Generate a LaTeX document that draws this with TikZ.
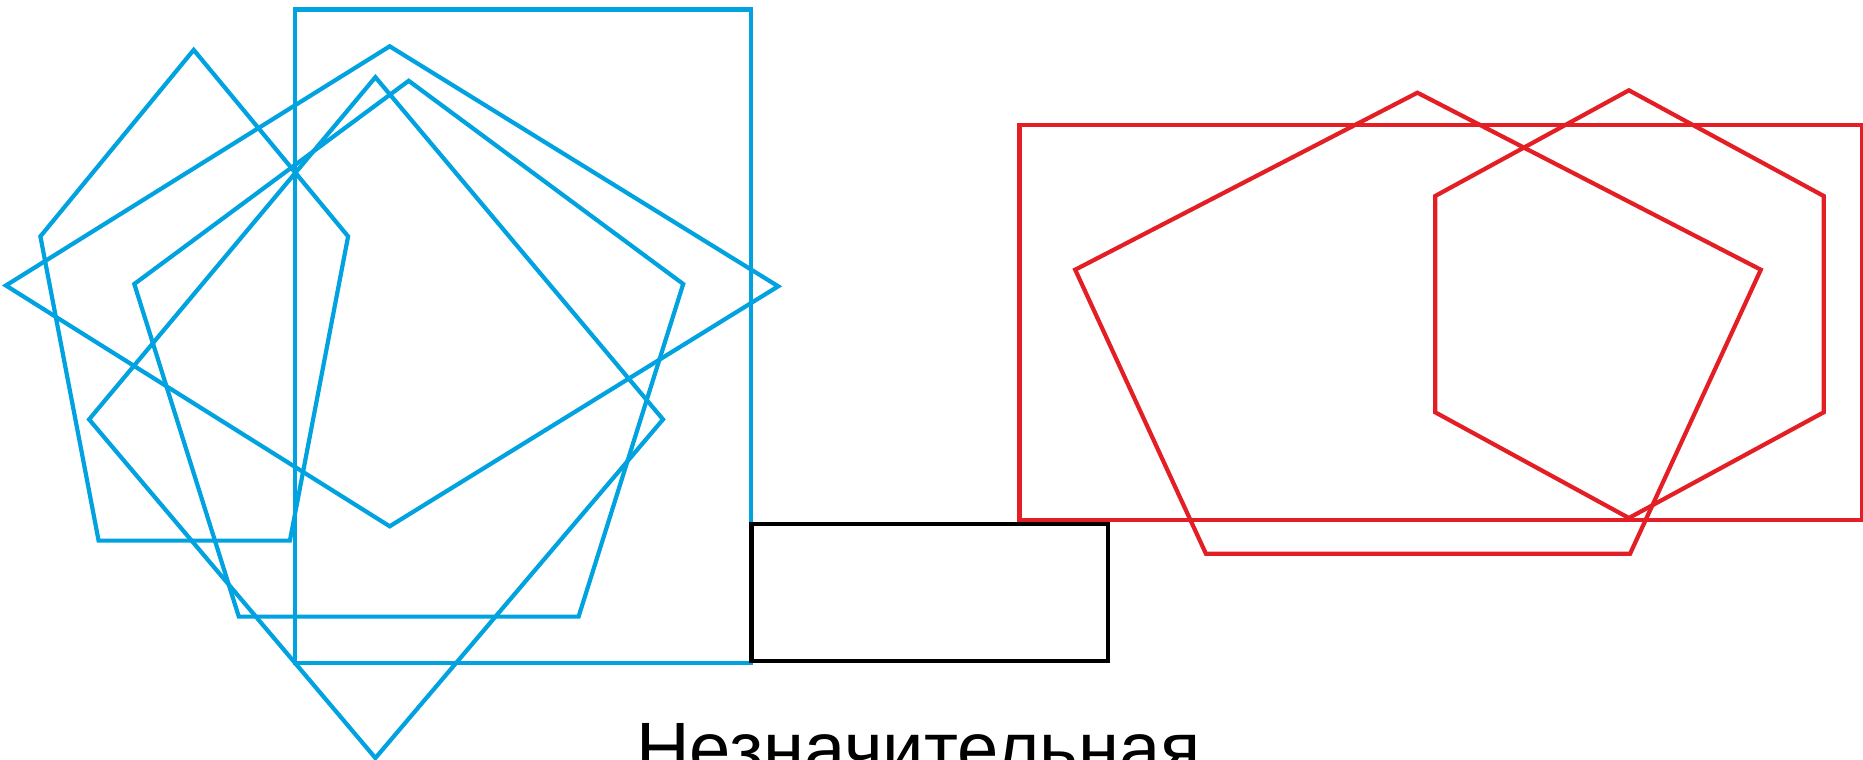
\documentclass[tikz,border=0pt]{standalone}
\usepackage{fontspec}
\setmainfont{Liberation Sans}
\definecolor{cblue}{RGB}{0,162,224}
\definecolor{cred}{RGB}{227,30,36}
\begin{document}
\begin{tikzpicture}[x=1pt,y=-1pt,
  blueline/.style={draw=cblue,line width=4.2pt,line join=miter},
  redline/.style={draw=cred,line width=4.2pt,line join=miter},
  blackline/.style={draw=black,line width=4.5pt}]
\useasboundingbox[fill=white] (0,0) rectangle (1863,760);
% blue shapes
\draw[blueline] (294.6,9.5) rectangle (750.9,663);
\draw[blueline] (193.7,49.9) -- (348.1,236.4) -- (289.9,540.6) -- (98.6,540.6) -- (40.4,236.4) -- cycle;
\draw[blueline] (5.9,285.5) -- (389.7,46.3) -- (778.2,286.3) -- (389.7,526.3) -- cycle;
\draw[blueline] (408.7,80.8) -- (683.2,284) -- (578.6,616.6) -- (238.8,616.6) -- (134.3,284) -- cycle;
\draw[blueline] (375.4,77.2) -- (663,419.4) -- (375.4,758) -- (89.1,419.4) -- cycle;
% black rectangle
\draw[blackline] (751.7,524) rectangle (1108,661);
% red shapes
\draw[redline] (1019.5,124.8) rectangle (1862,520);
\draw[redline] (1417.4,92.7) -- (1760.8,269.7) -- (1630.1,553.7) -- (1205.9,553.7) -- (1075.2,269.7) -- cycle;
\draw[redline] (1628.9,90.3) -- (1823.7,196) -- (1823.7,412.3) -- (1628.9,518) -- (1435.2,412.3) -- (1435.2,196) -- cycle;
% label
\node[anchor=base west,inner sep=0pt,font=\fontsize{74.2pt}{80pt}\selectfont] (lbl) at (636.1,774.8) {Незначительная};
\end{tikzpicture}
\end{document}
